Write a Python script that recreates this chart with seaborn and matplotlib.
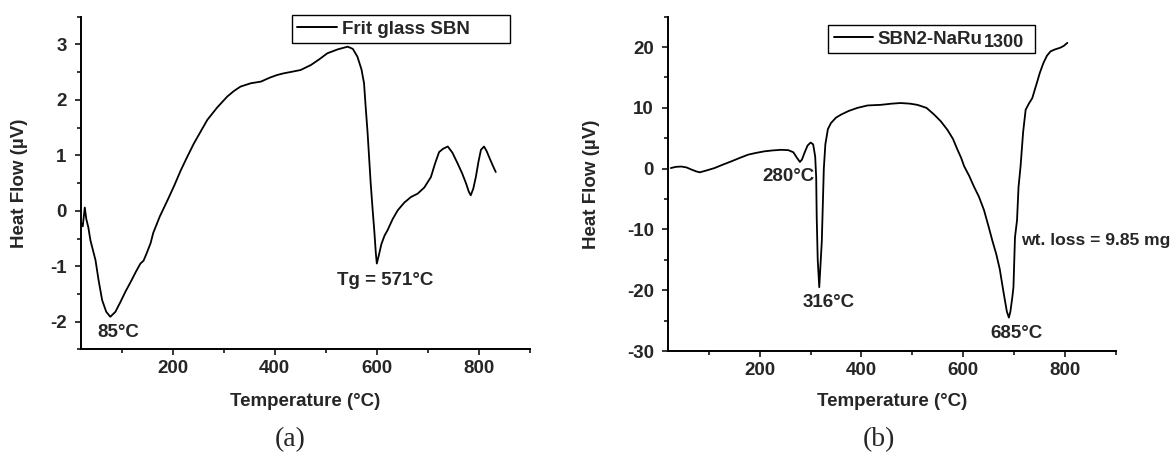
import matplotlib
matplotlib.use("Agg")
import matplotlib.pyplot as plt
from matplotlib.ticker import MultipleLocator
import seaborn as sns
import pandas as pd

# ---- data ----
frit_temp = [20, 24, 28, 31, 35, 39, 49, 55, 62, 70, 78, 88, 98, 108, 118, 128, 137, 143, 149,
             157, 162, 175, 190, 203, 216, 229, 242, 255, 268, 287, 307, 320, 333, 353, 373,
             390, 405, 418, 435, 451, 471, 487, 503, 523, 543, 553, 562, 570, 575, 578, 582,
             585, 588, 592, 595, 598, 600, 604, 609, 615, 621, 631, 641, 654, 667, 680, 693,
             706, 714, 722, 730, 739, 748, 758, 767, 775, 780, 784, 789, 794, 799, 804, 810,
             815, 820, 827, 833]
frit_heat = [-0.20, -0.28, 0.06, -0.15, -0.30, -0.53, -0.89, -1.25, -1.61, -1.82, -1.91, -1.82,
             -1.64, -1.45, -1.28, -1.10, -0.95, -0.90, -0.77, -0.58, -0.40, -0.10, 0.19, 0.45,
             0.73, 0.98, 1.22, 1.43, 1.64, 1.86, 2.06, 2.16, 2.24, 2.30, 2.33, 2.40, 2.45,
             2.48, 2.51, 2.54, 2.63, 2.73, 2.84, 2.91, 2.96, 2.92, 2.78, 2.55, 2.30, 1.90,
             1.40, 0.95, 0.50, 0.00, -0.35, -0.75, -0.95, -0.80, -0.60, -0.45, -0.35, -0.15,
             0.01, 0.15, 0.25, 0.31, 0.42, 0.61, 0.85, 1.06, 1.12, 1.16, 1.05, 0.86, 0.68,
             0.49, 0.35, 0.28, 0.40, 0.61, 0.88, 1.10, 1.16, 1.08, 0.97, 0.82, 0.70]

sbn_temp = [25, 35, 46, 56, 66, 75, 82, 95, 111, 127, 144, 160, 177, 193, 209, 225, 242, 256,
            266, 273, 279, 283, 288, 294, 300, 305, 309, 311, 312, 314, 317, 320, 322, 324,
            326, 329, 334, 340, 350, 360, 375, 392, 412, 438, 460, 477, 495, 510, 528, 543,
            556, 569, 580, 589, 596, 602, 612, 621, 631, 641, 650, 658, 665, 672, 680, 686,
            690, 693, 697, 699, 702, 706, 709, 713, 718, 723, 730, 736, 741, 745, 751, 758,
            765, 772, 780, 791, 798, 805]
sbn_heat = [0.1, 0.3, 0.35, 0.2, -0.16, -0.45, -0.6, -0.3, 0.1, 0.65, 1.2, 1.75, 2.3, 2.6,
            2.85, 3.0, 3.1, 3.05, 2.7, 1.8, 1.1, 1.5, 2.6, 3.8, 4.3, 4.0, 2.0, -1.5, -8.0,
            -15.0, -19.5, -15.0, -12.0, -6.0, 0.0, 4.0, 6.5, 7.5, 8.4, 8.9, 9.5, 10.0, 10.4,
            10.5, 10.7, 10.8, 10.7, 10.5, 10.0, 8.9, 7.8, 6.4, 4.9, 3.1, 1.8, 0.4, -1.2,
            -2.9, -4.6, -6.8, -9.5, -12.0, -14.0, -16.5, -20.6, -23.5, -24.5, -23.5, -21.0,
            -19.5, -11.3, -8.5, -3.0, 0.4, 6.0, 9.7, 10.8, 11.6, 13.0, 14.1, 15.8, 17.4,
            18.6, 19.3, 19.6, 19.9, 20.2, 20.7]

x_label = "Temperature (°C)"
y_label = "Heat Flow (µV)"
legend_a = "Frit glass SBN"
legend_b_main = "SBN2-NaRu"
legend_b_sub = "1300"

# ---- style ----
sns.set_theme(style="ticks")
plt.rcParams["font.family"] = ["Liberation Sans", "DejaVu Sans"]
plt.rcParams["font.weight"] = "bold"
plt.rcParams["axes.unicode_minus"] = False

FS = 13.5
fig = plt.figure(figsize=(11.73, 4.58), dpi=100)
ax1 = fig.add_axes([0.0688, 0.2369, 0.3830, 0.7266])
ax2 = fig.add_axes([0.5697, 0.2336, 0.3814, 0.7299])

df1 = pd.DataFrame({"T": frit_temp, "H": frit_heat, "s": legend_a})
df2 = pd.DataFrame({"T": sbn_temp, "H": sbn_heat, "s": legend_b_main})

sns.lineplot(data=df1, x="T", y="H", hue="s", palette=["black"], ax=ax1,
             linewidth=1.3, sort=False, estimator=None)
sns.lineplot(data=df2, x="T", y="H", hue="s", palette=["black"], ax=ax2,
             linewidth=1.3, sort=False, estimator=None)

def style_axes(ax, ylim, ymaj, ymin, xlab_y, ylab_x):
    ax.set_xlim(20, 900)
    ax.set_ylim(*ylim)
    ax.xaxis.set_major_locator(MultipleLocator(200))
    ax.xaxis.set_minor_locator(MultipleLocator(100))
    ax.yaxis.set_major_locator(MultipleLocator(ymaj))
    ax.yaxis.set_minor_locator(MultipleLocator(ymin))
    sns.despine(ax=ax)
    for s in ("left", "bottom"):
        ax.spines[s].set_linewidth(1.4)
        ax.spines[s].set_color("black")
    ax.tick_params(which="major", direction="out", length=4.2, width=1.1,
                   color="black", labelsize=13.5, pad=3.5)
    ax.tick_params(axis="y", which="major", pad=6)
    ax.tick_params(which="minor", direction="out", length=2.6, width=1.1, color="black")
    for lab in ax.get_xticklabels() + ax.get_yticklabels():
        lab.set_fontweight("bold")
    ax.set_xlabel(x_label, fontsize=FS, fontweight="bold")
    ax.set_ylabel(y_label, fontsize=FS, fontweight="bold")
    ax.xaxis.set_label_coords(0.5, xlab_y)
    ax.yaxis.set_label_coords(ylab_x, 0.5)

style_axes(ax1, (-2.5, 3.5), 1, 0.5, -0.132, -0.117)
style_axes(ax2, (-30, 25), 10, 5, -0.127, -0.153)

def make_legend(ax, x0, y0, w, h):
    leg = ax.legend(loc="lower left", bbox_to_anchor=(x0, y0, w, h), mode="expand",
                    frameon=True, fancybox=False, framealpha=1, edgecolor="black",
                    fontsize=FS, handlelength=2.1, handletextpad=0.25, borderpad=0.3,
                    borderaxespad=0.0, title=None)
    leg.get_frame().set_linewidth(1.0)
    for t in leg.get_texts():
        t.set_fontweight("bold")
    for l in leg.get_lines():
        l.set_linewidth(1.4)
    return leg

leg1 = make_legend(ax1, 0.470, 0.920, 0.485, 0.090)
leg2 = make_legend(ax2, 0.357, 0.890, 0.463, 0.090)

# annotations
kw = dict(fontsize=FS, fontweight="bold", ha="center", va="center")
ax1.text(94, -2.19, "85°C", **kw)
ax1.text(617, -1.25, "Tg = 571°C", **kw)
ax2.text(257, -1.3, "280°C", **kw)
ax2.text(335, -22.0, "316°C", **kw)
ax2.text(705, -27.1, "685°C", **kw)
ax2.text(713, -11.9, "wt. loss = 9.85 mg", fontsize=12.6, fontweight="bold",
         ha="left", va="center", clip_on=False)

serif = ["Liberation Serif", "DejaVu Serif"]
fig.text(0.247, 0.041, "(a)", fontsize=20, family=serif,
         fontweight="normal", ha="center", va="center")
fig.text(0.749, 0.041, "(b)", fontsize=20, family=serif,
         fontweight="normal", ha="center", va="center")

# subscript "1300" of the second legend entry (full-size digits, lowered)
fig.canvas.draw()
renderer = fig.canvas.get_renderer()
bb = leg2.get_texts()[0].get_window_extent(renderer)
W, H = fig.bbox.width, fig.bbox.height
fig.text((bb.x1 + 1) / W, (bb.y0 - 3) / H, legend_b_sub, fontsize=13,
         fontweight="bold", ha="left", va="bottom", zorder=10)

fig.savefig("out.png", dpi=100)
